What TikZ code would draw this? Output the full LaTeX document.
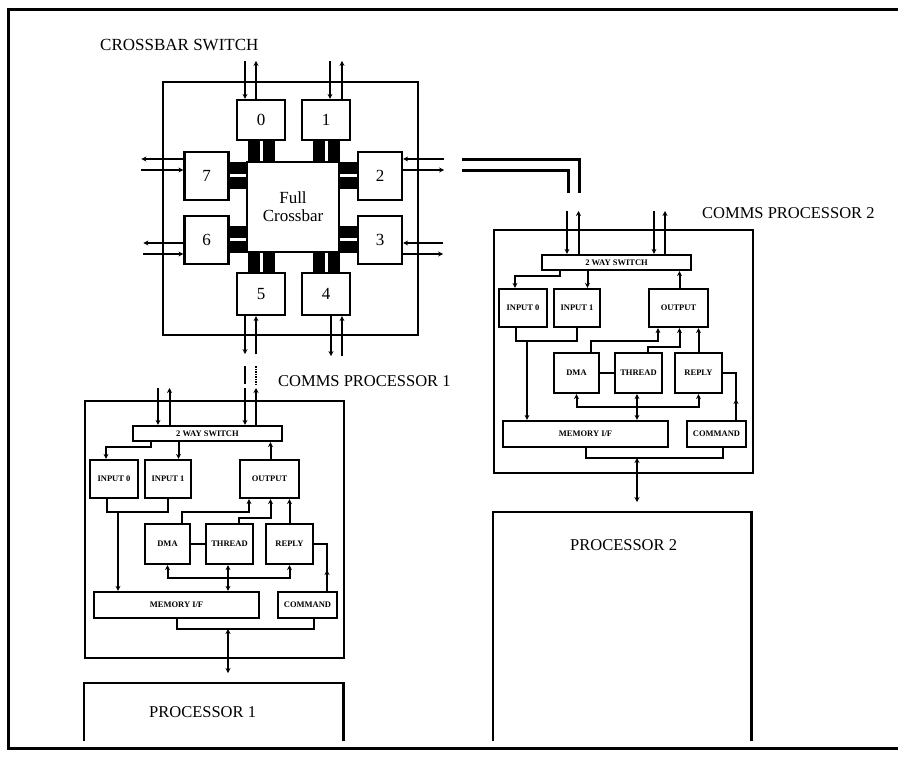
\documentclass[tikz,border=0pt]{standalone}
\usepackage{fontspec}
\setmainfont{Liberation Serif}
\usetikzlibrary{arrows.meta,positioning,calc}
\tikzset{
  box/.style={draw,line width=2.2pt,inner sep=0pt},
  port/.style={box,font=\fontsize{17}{18}\selectfont},
  unit/.style={box,font=\fontsize{8.5}{9}\selectfont\bfseries},
  wire/.style={line width=2pt},
  arr/.style={wire,-{Stealth[length=5pt,width=5pt]}},
  biarr/.style={wire,{Stealth[length=5pt,width=5pt]}-{Stealth[length=5pt,width=5pt]}},
  title/.style={font=\fontsize{16.5}{18}\selectfont,anchor=west,inner sep=0pt},
}
% one comms processor: origin x, origin y, height, top of pins, prefix
\newcommand{\commsunit}[5]{%
\begin{scope}[shift={(#1,#2)},name prefix=#5-]
  \node[box,minimum width=259pt,minimum height=#3pt,anchor=north west] (frame) at (0,0) {};
  \node[unit,minimum width=149pt,minimum height=15pt] (sw) at (123.5,33.5) {2 WAY SWITCH};
  \node[unit,minimum width=48pt,minimum height=38pt] (in0) at (30,79) {INPUT 0};
  \node[unit,minimum width=46pt,minimum height=38pt] (in1) at (84,79) {INPUT 1};
  \node[unit,minimum width=59pt,minimum height=38pt] (out) at (185.5,79) {OUTPUT};
  \node[unit,minimum width=45pt,minimum height=40pt] (dma) at (83.5,144) {DMA};
  \node[unit,minimum width=47pt,minimum height=40pt] (thr) at (145.5,144) {THREAD};
  \node[unit,minimum width=47pt,minimum height=40pt] (rep) at (205.5,144) {REPLY};
  \node[unit,minimum width=165pt,minimum height=26pt] (mem) at (92.5,205) {MEMORY I/F};
  \node[unit,minimum width=59pt,minimum height=26pt] (cmd) at (223.5,205) {COMMAND};
  % pins from the crossbar side
  \draw[arr] (74,#4) -- (sw.north -| 74,0);
  \draw[arr] (sw.north -| 85.5,0) -- (85.5,#4);
  \draw[arr] (161,#4) -- (sw.north -| 161,0);
  \draw[arr] (sw.north -| 172,0) -- (172,#4);
  % switch to inputs and output
  \draw[arr] (sw.south -| 67,0) -- (67,47) -| (in0.north -| 22,0);
  \draw[arr] (sw.south -| 94.5,0) -- (in1.north -| 94.5,0);
  \draw[arr] (out.north -| 186.5,0) -- (sw.south -| 186.5,0);
  \draw[wire] (in0.south -| 23,0) |- (84,112) -- (in1.south -| 84,0);
  \draw[arr] (34,112) -- (mem.north -| 34,0);
  \draw[arr] (dma.north -| 97.5,0) |- (165,112) -- (out.south -| 165,0);
  \draw[arr] (thr.north -| 155,0) |- (186.5,118) -- (out.south -| 186.5,0);
  \draw[arr] (rep.north) -- (out.south -| rep.north);
  \draw[wire] (dma.east) -- (thr.west);
  % bus to memory
  \draw[arr] (144,178) -| (dma.south);
  \draw[arr] (144,178) -| (rep.south);
  \draw[biarr] (thr.south -| 144,0) -- (mem.north -| 144,0);
  \draw[wire] (cmd.north -| 243,0) |- (rep.east);
  \draw[arr] (cmd.north -| 243,0) -- (243,170);
  \draw[wire] (mem.south -| 93,0) |- (230,229) -- (cmd.south -| 230,0);
  \draw[biarr] (144,229) -- (144,273);
\end{scope}}

\begin{document}
\begin{tikzpicture}[x=1pt,y=-1pt]
  \useasboundingbox (0,0) rectangle (898,777);
  \draw[line width=3pt] (898,9) -- (8,9) -- (8,748) -- (898,748);

  % crossbar switch
  \node[title,font=\fontsize{17}{18}\selectfont] (xtitle) at (100,45) {CROSSBAR SWITCH};
  \node[box,minimum width=255pt,minimum height=253pt] (xbox) at (290.5,208.5) {};
  \node[port,minimum width=92pt,minimum height=90pt,align=center] (ctr) at (293,207) {Full\\Crossbar};
  \node[port,minimum width=48pt,minimum height=40pt] (p0) at (261,120) {0};
  \node[port,minimum width=48pt,minimum height=40pt] (p1) at (326,120) {1};
  \node[port,minimum width=44pt,minimum height=48pt] (p2) at (380,176) {2};
  \node[port,minimum width=44pt,minimum height=48pt] (p3) at (380,240) {3};
  \node[port,minimum width=48pt,minimum height=42pt] (p4) at (326,294) {4};
  \node[port,minimum width=48pt,minimum height=42pt] (p5) at (261,294) {5};
  \node[port,minimum width=44pt,minimum height=48pt] (p6) at (206.5,240) {6};
  \node[port,minimum width=44pt,minimum height=48pt] (p7) at (206.5,176) {7};
  \foreach \p in {p0,p1}{
    \fill ($(\p.south)+(-13,0)$) rectangle ($(ctr.north -| \p.south)+(-1,0)$);
    \fill ($(\p.south)+(2,0)$) rectangle ($(ctr.north -| \p.south)+(14,0)$);}
  \foreach \p in {p5,p4}{
    \fill ($(\p.north)+(-13,0)$) rectangle ($(ctr.south -| \p.north)+(-1,0)$);
    \fill ($(\p.north)+(2,0)$) rectangle ($(ctr.south -| \p.north)+(14,0)$);}
  \foreach \p in {p7,p6}{
    \fill ($(\p.east)+(0,-14)$) rectangle ($(ctr.west |- \p.east)+(0,-2)$);
    \fill ($(\p.east)+(0,1)$) rectangle ($(ctr.west |- \p.east)+(0,13)$);}
  \foreach \p in {p2,p3}{
    \fill ($(\p.west)+(0,-14)$) rectangle ($(ctr.east |- \p.west)+(0,-2)$);
    \fill ($(\p.west)+(0,1)$) rectangle ($(ctr.east |- \p.west)+(0,13)$);}

  % port lines
  \draw[arr] ($(p0.north)+(-16,-38)$) -- ($(p0.north)+(-16,0)$);
  \draw[arr] ($(p0.north)+(-5,0)$) -- ++(0,-38);
  \draw[arr] ($(p1.north)+(4,-38)$) -- ($(p1.north)+(4,0)$);
  \draw[arr] ($(p1.north)+(16,0)$) -- ++(0,-38);
  \draw[arr] ($(p7.west)+(0,-17)$) -- ++(-42,0);
  \draw[arr] ($(p7.west)+(-42,-6)$) -- ($(p7.west)+(0,-6)$);
  \draw[arr] ($(p6.west)+(0,3)$) -- ++(-40,0);
  \draw[arr] ($(p6.west)+(-40,14)$) -- ($(p6.west)+(0,14)$);
  \draw[arr] ($(p2.east)+(41,-17)$) -- ($(p2.east)+(0,-17)$);
  \draw[arr] ($(p2.east)+(0,-6)$) -- ++(41,0);
  \draw[arr] ($(p3.east)+(40,3)$) -- ($(p3.east)+(0,3)$);
  \draw[arr] ($(p3.east)+(0,14)$) -- ++(40,0);
  \draw[arr] ($(p5.south)+(-16,0)$) -- ++(0,38);
  \draw[arr] ($(p5.south)+(-5,38)$) -- ($(p5.south)+(-5,0)$);
  \draw[arr] ($(p4.south)+(5,0)$) -- ++(0,40);
  \draw[arr] ($(p4.south)+(16,40)$) -- ($(p4.south)+(16,0)$);
  % broken lines on to the comms processors
  \draw[wire] ($(p5.south)+(-16,50)$) -- ++(0,18);
  \draw[wire,dash pattern=on 1.5pt off 1pt] ($(p5.south)+(-5,50)$) -- ++(0,18);
  \draw[wire,line width=3pt] ($(p2.east)+(59,-17)$) -| ($(p2.east)+(176.5,17)$);
  \draw[wire,line width=3pt] ($(p2.east)+(59,-6)$) -| ($(p2.east)+(165,17)$);

  % comms processors
  \node[title] (c1title) at (278,381) {COMMS PROCESSOR 1};
  \node[title] (c2title) at (702,213) {COMMS PROCESSOR 2};
  \commsunit{84}{400}{257}{-12}{c1}
  \commsunit{493}{229}{243}{-18}{c2}

  % processors
  \node[minimum width=259pt,minimum height=58pt,anchor=north west] (proc1) at (84,683) {};
  \node[minimum width=258pt,minimum height=229pt,anchor=north west] (proc2) at (493,512) {};
  \draw[box] (proc1.south west) |- (proc1.north east) -- (proc1.south east);
  \draw[box] (proc2.south west) |- (proc2.north east) -- (proc2.south east);
  \node[title] (p1title) at (149,712) {PROCESSOR 1};
  \node[title] (p2title) at (570,545) {PROCESSOR 2};
\end{tikzpicture}
\end{document}
